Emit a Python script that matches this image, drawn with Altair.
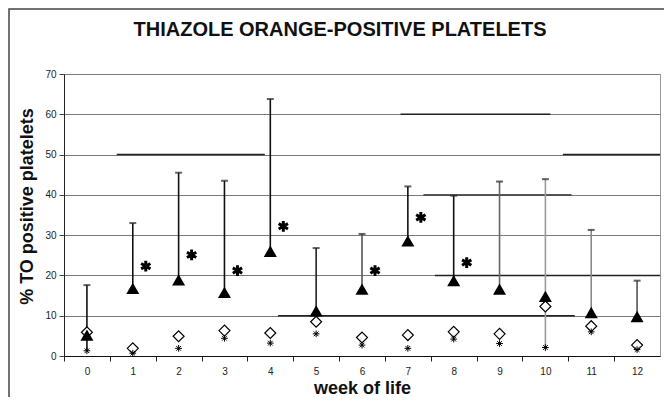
import altair as alt
import pandas as pd

# ---- data ----
weeks = list(range(13))
triangle = [5.2, 16.8, 18.9, 15.8, 26.0, 11.2, 16.6, 28.6, 18.7, 16.6, 14.8, 10.8, 9.8]
bar_high = [17.6, 33.0, 45.5, 43.5, 63.8, 26.8, 30.3, 42.1, 39.8, 43.3, 43.9, 31.3, 18.7]
bar_low = [1.3, 16.8, 18.9, 15.8, 26.0, 11.2, 16.6, 28.6, 18.7, 16.6, 2.1, 10.8, 9.8]
diamond = [5.9, 1.9, 4.9, 6.3, 5.7, 8.5, 4.6, 5.2, 6.0, 5.5, 12.3, 7.4, 2.7]
small_star = [1.3, 0.7, 1.9, 4.4, 3.2, 5.5, 2.7, 1.9, 4.2, 3.1, 2.1, 6.0, 1.6]
sig_weeks = [1, 2, 3, 4, 6, 7, 8]
sig_y = [22.3, 25.1, 21.2, 32.2, 21.2, 34.4, 23.2]
# darker gridline pieces visible in the scan
seg_y = [60, 50, 50, 40, 20, 10]
seg_x0 = [6.84, 0.65, 10.38, 7.34, 7.59, 4.17]
seg_x1 = [10.11, 3.88, 12.5, 10.57, 12.5, 10.64]
y_ticks = [0, 10, 20, 30, 40, 50, 60, 70]

# style: shade of each range bar
bar_shade = ["#111", "#111", "#111", "#111", "#111", "#222", "#555", "#111",
             "#111", "#666", "#9a9a9a", "#888", "#555"]

W, H = 596, 282
TOP = 66
half_band = W / 13 / 2

df = pd.DataFrame({
    "week": weeks, "tri": triangle, "hi": bar_high, "lo": bar_low,
    "dia": diamond, "sm": small_star, "shade": bar_shade,
})
sig = pd.DataFrame({"week": sig_weeks, "y": sig_y})
segs = pd.DataFrame({"y": seg_y, "x0": seg_x0, "x1": seg_x1})

xscale = alt.Scale(domain=[-0.5, 12.5], nice=False, zero=False)
yscale = alt.Scale(domain=[0, 70], nice=False)

xaxis = alt.Axis(
    values=weeks, title="week of life", grid=False, tickOffset=-half_band,
    labelOffset=half_band, tickSize=5, tickColor="#222", domainColor="#111",
    labelFontSize=10, labelColor="#222", titleFontSize=18, titleFontWeight="bold",
    titleColor="#111", titlePadding=3, labelPadding=5,
)
yaxis = alt.Axis(
    values=y_ticks, title="% TO positive platelets", grid=True, gridColor="#7a7a7a",
    gridWidth=1, tickSize=5, tickColor="#444", domainColor="#222",
    labelFontSize=10, labelColor="#222", titleFontSize=18, titleFontWeight="bold",
    titleColor="#111", titlePadding=8, labelPadding=3, titleY=H / 2 - 9,
)

base = alt.Chart(df)

frame = alt.Chart(pd.DataFrame({"a": [0]})).mark_rect(
    fill=None, stroke="#444", strokeWidth=1.5
).encode(
    x=alt.value(-55), x2=alt.value(700), y=alt.value(-(TOP - 1)), y2=alt.value(420)
)

seg_layer = alt.Chart(segs).mark_rule(color="#222", strokeWidth=1.4).encode(
    x=alt.X("x0:Q", scale=xscale, axis=xaxis),
    x2="x1:Q",
    y=alt.Y("y:Q", scale=yscale, axis=yaxis),
)

bars = base.mark_rule(strokeWidth=1.6).encode(
    x=alt.X("week:Q", scale=xscale, axis=xaxis),
    y=alt.Y("lo:Q", scale=yscale, axis=yaxis),
    y2="hi:Q",
    color=alt.Color("shade:N", scale=None),
)

caps = base.mark_tick(orient="horizontal", size=7, thickness=2, color="#222").encode(
    x=alt.X("week:Q", scale=xscale), y=alt.Y("hi:Q", scale=yscale)
)

diamonds = base.mark_point(
    shape="diamond", filled=True, fill="white", stroke="black",
    strokeWidth=1.2, size=120, opacity=1,
).encode(x=alt.X("week:Q", scale=xscale), y=alt.Y("dia:Q", scale=yscale))

small = base.mark_point(
    shape="M-1,0L1,0M0,-1L0,1M-0.7,-0.7L0.7,0.7M-0.7,0.7L0.7,-0.7",
    filled=False, stroke="black", strokeWidth=1.0, size=45, opacity=1,
).encode(x=alt.X("week:Q", scale=xscale), y=alt.Y("sm:Q", scale=yscale))

tris = base.mark_point(
    shape="triangle-up", filled=True, color="black", size=170, opacity=1,
).encode(x=alt.X("week:Q", scale=xscale), y=alt.Y("tri:Q", scale=yscale))

stars = alt.Chart(sig).mark_point(
    shape="M0,-1L0,1M-0.87,-0.5L0.87,0.5M-0.87,0.5L0.87,-0.5",
    filled=False, stroke="black", strokeWidth=3, size=115, opacity=1, xOffset=13,
).encode(x=alt.X("week:Q", scale=xscale), y=alt.Y("y:Q", scale=yscale))

chart = alt.layer(frame, seg_layer, bars, caps, diamonds, small, tris, stars).properties(
    width=W, height=H,
    autosize=alt.AutoSizeParams(type="none"),
    padding={"left": 56, "top": TOP, "right": 4, "bottom": 389 - TOP - H},
    title=alt.TitleParams(
        "THIAZOLE ORANGE-POSITIVE PLATELETS", fontSize=20, fontWeight="bold",
        color="#111", anchor="middle", frame="group", dx=-22, offset=-32,
    ),
).configure(font="Liberation Sans").configure_view(stroke="#999", strokeWidth=1)

chart.save("out.html", embed_options={"renderer": "svg", "actions": False})
